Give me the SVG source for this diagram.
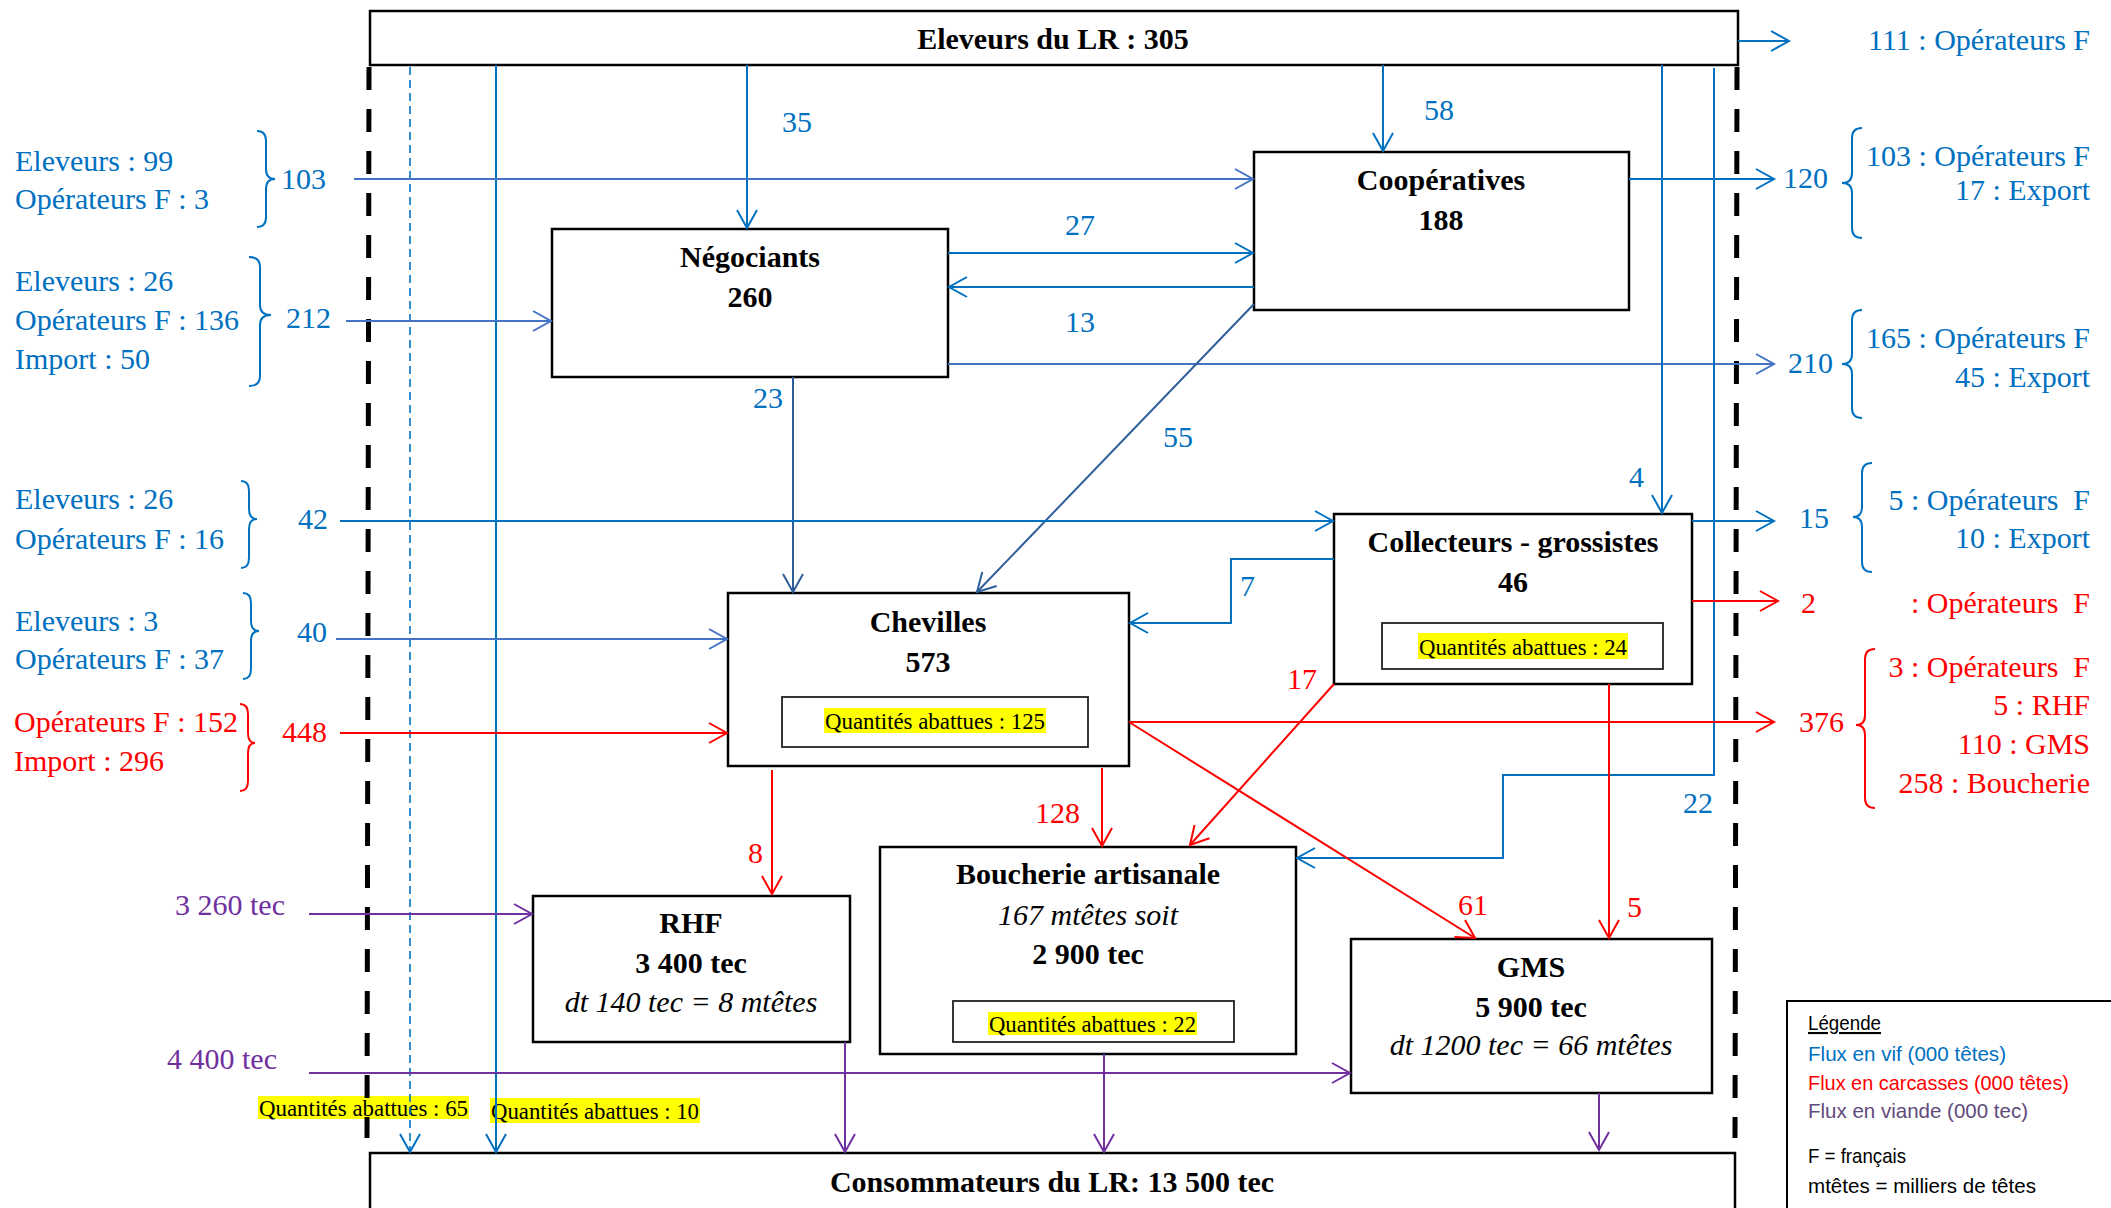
<svg xmlns="http://www.w3.org/2000/svg" width="2111" height="1208" viewBox="0 0 2111 1208">
<style>
.bx{fill:#fff;stroke:#000;stroke-width:2.5}
.ib{fill:#fff;stroke:#222;stroke-width:1.8}
.t{font-family:"Liberation Serif","Times New Roman",serif;font-size:30px}
.b{font-weight:bold;fill:#000;text-anchor:middle}
.i{font-style:italic;fill:#000;text-anchor:middle}
.bl{fill:#0070C0}
.rd{fill:#FF0000}
.pu{fill:#7030A0}
.end{text-anchor:end}
.hl{fill:#FFFF00}
.q{font-family:"Liberation Serif","Times New Roman",serif;font-size:24px;fill:#000}
.lg{font-family:"Liberation Sans",Arial,sans-serif;font-size:21px}
.lb{fill:none;stroke:#0070C0;stroke-width:2}
.lb2{fill:none;stroke:#4472C4;stroke-width:2}
.lb3{fill:none;stroke:#2E5E99;stroke-width:2}
.lr{fill:none;stroke:#FF0000;stroke-width:2}
.lp{fill:none;stroke:#7030A0;stroke-width:2}
.br{fill:none;stroke-width:2}
.dash{fill:none;stroke:#000;stroke-width:5;stroke-dasharray:23 19}
</style>
<defs>
<marker id="mb" markerUnits="userSpaceOnUse" markerWidth="24" markerHeight="24" refX="19" refY="11" orient="auto" overflow="visible"><path d="M1,1 L19,11 L1,21" fill="none" stroke="#0070C0" stroke-width="2"/></marker>
<marker id="mb2" markerUnits="userSpaceOnUse" markerWidth="24" markerHeight="24" refX="19" refY="11" orient="auto" overflow="visible"><path d="M1,1 L19,11 L1,21" fill="none" stroke="#4472C4" stroke-width="2"/></marker>
<marker id="mb3" markerUnits="userSpaceOnUse" markerWidth="24" markerHeight="24" refX="19" refY="11" orient="auto" overflow="visible"><path d="M1,1 L19,11 L1,21" fill="none" stroke="#2E5E99" stroke-width="2"/></marker>
<marker id="mr" markerUnits="userSpaceOnUse" markerWidth="24" markerHeight="24" refX="19" refY="11" orient="auto" overflow="visible"><path d="M1,1 L19,11 L1,21" fill="none" stroke="#FF0000" stroke-width="2"/></marker>
<marker id="mp" markerUnits="userSpaceOnUse" markerWidth="24" markerHeight="24" refX="19" refY="11" orient="auto" overflow="visible"><path d="M1,1 L19,11 L1,21" fill="none" stroke="#7030A0" stroke-width="2"/></marker>
</defs>
<rect width="2111" height="1208" fill="#fff"/>

<!-- nodes -->
<g id="eleveurs"><rect class="bx" x="370" y="11" width="1368" height="54"/><text class="t b" x="1053" y="49">Eleveurs du LR : 305</text></g>
<g id="consommateurs"><rect class="bx" x="370" y="1153" width="1365" height="60"/><text class="t b" x="1052" y="1192">Consommateurs du LR: 13 500 tec</text></g>
<g id="cooperatives"><rect class="bx" x="1254" y="152" width="375" height="158"/><text class="t b" x="1441" y="190">Coopératives</text><text class="t b" x="1441" y="230">188</text></g>
<g id="negociants"><rect class="bx" x="552" y="229" width="396" height="148"/><text class="t b" x="750" y="267">Négociants</text><text class="t b" x="750" y="307">260</text></g>
<g id="collecteurs"><rect class="bx" x="1334" y="514" width="358" height="170"/><text class="t b" x="1513" y="552">Collecteurs - grossistes</text><text class="t b" x="1513" y="592">46</text>
<rect class="ib" x="1382" y="623" width="281" height="46"/><rect class="hl" x="1418" y="633" width="210" height="26"/><text class="q" x="1419" y="655" textLength="208" lengthAdjust="spacingAndGlyphs">Quantités abattues : 24</text></g>
<g id="chevilles"><rect class="bx" x="728" y="593" width="401" height="173"/><text class="t b" x="928" y="632">Chevilles</text><text class="t b" x="928" y="672">573</text>
<rect class="ib" x="782" y="697" width="306" height="50"/><rect class="hl" x="824" y="708" width="222" height="25"/><text class="q" x="825" y="729" textLength="220" lengthAdjust="spacingAndGlyphs">Quantités abattues : 125</text></g>
<g id="rhf"><rect class="bx" x="533" y="896" width="317" height="146"/><text class="t b" x="691" y="933">RHF</text><text class="t b" x="691" y="973">3 400 tec</text><text class="t i" x="691" y="1012">dt 140 tec = 8 mtêtes</text></g>
<g id="boucherie"><rect class="bx" x="880" y="847" width="416" height="207"/><text class="t b" x="1088" y="884">Boucherie artisanale</text><text class="t i" x="1088" y="925">167 mtêtes soit</text><text class="t b" x="1088" y="964">2 900 tec</text>
<rect class="ib" x="953" y="1001" width="281" height="41"/><rect class="hl" x="988" y="1012" width="209" height="23"/><text class="q" x="989" y="1032" textLength="207" lengthAdjust="spacingAndGlyphs">Quantités abattues : 22</text></g>
<g id="gms"><rect class="bx" x="1351" y="939" width="361" height="154"/><text class="t b" x="1531" y="977">GMS</text><text class="t b" x="1531" y="1017">5 900 tec</text><text class="t i" x="1531" y="1055">dt 1200 tec = 66 mtêtes</text></g>
<g id="legende"><rect x="1787" y="1001" width="340" height="220" fill="#fff" stroke="#000" stroke-width="2"/>
<text class="lg" x="1808" y="1030" fill="#000" text-decoration="underline" textLength="73" lengthAdjust="spacingAndGlyphs">Légende</text>
<text class="lg" x="1808" y="1061" fill="#0070C0" textLength="198" lengthAdjust="spacingAndGlyphs">Flux en vif (000 têtes)</text>
<text class="lg" x="1808" y="1090" fill="#FF0000" textLength="261" lengthAdjust="spacingAndGlyphs">Flux en carcasses (000 têtes)</text>
<text class="lg" x="1808" y="1118" fill="#604A7B" textLength="220" lengthAdjust="spacingAndGlyphs">Flux en viande (000 tec)</text>
<text class="lg" x="1808" y="1163" fill="#000" textLength="98" lengthAdjust="spacingAndGlyphs">F = français</text>
<text class="lg" x="1808" y="1193" fill="#000" textLength="228" lengthAdjust="spacingAndGlyphs">mtêtes = milliers de têtes</text></g>

<!-- slaughter highlights -->
<g id="abattues">
<rect class="hl" x="258" y="1096" width="211" height="23"/><text class="q" x="259" y="1116" textLength="209" lengthAdjust="spacingAndGlyphs">Quantités abattues : 65</text>
<rect class="hl" x="490" y="1098" width="210" height="25"/><text class="q" x="491" y="1119" textLength="208" lengthAdjust="spacingAndGlyphs">Quantités abattues : 10</text>
</g>

<!-- boundaries -->
<g id="frontieres">
<path class="dash" d="M369,67 L367,1138"/>
<path class="dash" d="M1737,67 L1735,1138"/>
</g>

<!-- connectors -->
<g id="connecteurs">
<path d="M410,67 L410,1152" fill="none" stroke="#0070C0" stroke-width="1.6" stroke-dasharray="8 5" marker-end="url(#mb)"/>
<path class="lb" d="M496,65 L496,1152" marker-end="url(#mb)"/>
<path class="lb" d="M747,65 L747,228" marker-end="url(#mb)"/>
<path class="lb" d="M1383,65 L1383,151" marker-end="url(#mb)"/>
<path class="lb2" d="M354,179 L1253,179" marker-end="url(#mb2)"/>
<path class="lb2" d="M346,321 L551,321" marker-end="url(#mb2)"/>
<path class="lb" d="M948,253 L1253,253" marker-end="url(#mb)"/>
<path class="lb" d="M1254,287 L949,287" marker-end="url(#mb)"/>
<path class="lb2" d="M948,364 L1774,364" marker-end="url(#mb2)"/>
<path class="lb" d="M1629,179 L1774,179" marker-end="url(#mb)"/>
<path class="lb" d="M1738,41 L1789,41" marker-end="url(#mb)"/>
<path class="lb3" d="M793,377 L793,592" marker-end="url(#mb3)"/>
<path class="lb3" d="M1254,304 L977,592" marker-end="url(#mb3)"/>
<path class="lb" d="M1662,65 L1662,513" marker-end="url(#mb)"/>
<path class="lb" d="M1714,68 L1714,775 L1503,775 L1503,858 L1297,858" marker-end="url(#mb)"/>
<path class="lb" d="M340,521 L1333,521" marker-end="url(#mb)"/>
<path class="lb" d="M1692,521 L1774,521" marker-end="url(#mb)"/>
<path class="lb" d="M1334,559 L1231,559 L1231,623 L1130,623" marker-end="url(#mb)"/>
<path class="lb2" d="M336,639 L727,639" marker-end="url(#mb2)"/>
<path class="lr" d="M340,733 L727,733" marker-end="url(#mr)"/>
<path class="lr" d="M1692,601 L1778,601" marker-end="url(#mr)"/>
<path class="lr" d="M1129,722 L1774,722" marker-end="url(#mr)"/>
<path class="lr" d="M1129,722 L1475,938" marker-end="url(#mr)"/>
<path class="lr" d="M1334,684 L1190,845" marker-end="url(#mr)"/>
<path class="lr" d="M1609,684 L1609,938" marker-end="url(#mr)"/>
<path class="lr" d="M772,770 L772,894" marker-end="url(#mr)"/>
<path class="lr" d="M1102,768 L1102,846" marker-end="url(#mr)"/>
<path class="lp" d="M309,914 L532,914" marker-end="url(#mp)"/>
<path class="lp" d="M309,1073 L1350,1073" marker-end="url(#mp)"/>
<path class="lp" d="M845,1042 L845,1152" marker-end="url(#mp)"/>
<path class="lp" d="M1104,1054 L1104,1152" marker-end="url(#mp)"/>
<path class="lp" d="M1599,1093 L1599,1150" marker-end="url(#mp)"/>
</g>

<!-- braces -->
<g id="accolades">
<path class="br" stroke="#0070C0" d="M257,131 Q266,131 266,141 L266,169 Q266,179 275,179 Q266,179 266,189 L266,217 Q266,227 257,227"/>
<path class="br" stroke="#0070C0" d="M249,257 Q260,257 260,267 L260,305 Q260,315 271,315 Q260,315 260,325 L260,376 Q260,386 249,386"/>
<path class="br" stroke="#0070C0" d="M241,481 Q249,481 249,491 L249,509 Q249,519 257,519 Q249,519 249,529 L249,558 Q249,568 241,568"/>
<path class="br" stroke="#0070C0" d="M243,593 Q251,593 251,603 L251,621 Q251,631 259,631 Q251,631 251,641 L251,669 Q251,679 243,679"/>
<path class="br" stroke="#FF0000" d="M240,704 Q248,704 248,714 L248,733 Q248,743 255,743 Q248,743 248,753 L248,781 Q248,791 240,791"/>
<path class="br" stroke="#0070C0" d="M1862,128 Q1852,128 1852,138 L1852,173 Q1852,183 1842,183 Q1852,183 1852,193 L1852,228 Q1852,238 1862,238"/>
<path class="br" stroke="#0070C0" d="M1862,310 Q1852,310 1852,320 L1852,354 Q1852,364 1842,364 Q1852,364 1852,374 L1852,408 Q1852,418 1862,418"/>
<path class="br" stroke="#0070C0" d="M1872,463 Q1862,463 1862,473 L1862,507 Q1862,517 1853,517 Q1862,517 1862,527 L1862,562 Q1862,572 1872,572"/>
<path class="br" stroke="#FF0000" d="M1875,649 Q1865,649 1865,659 L1865,715 Q1865,725 1856,725 Q1865,725 1865,735 L1865,798 Q1865,808 1875,808"/>
</g>

<!-- labels -->
<g id="etiquettes" class="t">
<text class="bl" x="15" y="171">Eleveurs : 99</text>
<text class="bl" x="15" y="209">Opérateurs F : 3</text>
<text class="bl" x="281" y="189">103</text>
<text class="bl" x="15" y="291">Eleveurs : 26</text>
<text class="bl" x="15" y="330">Opérateurs F : 136</text>
<text class="bl" x="15" y="369">Import : 50</text>
<text class="bl" x="286" y="328">212</text>
<text class="bl" x="15" y="509">Eleveurs : 26</text>
<text class="bl" x="15" y="549">Opérateurs F : 16</text>
<text class="bl" x="298" y="529">42</text>
<text class="bl" x="15" y="631">Eleveurs : 3</text>
<text class="bl" x="15" y="669">Opérateurs F : 37</text>
<text class="bl" x="297" y="642">40</text>
<text class="rd" x="14" y="732">Opérateurs F : 152</text>
<text class="rd" x="14" y="771">Import : 296</text>
<text class="rd" x="282" y="742">448</text>
<text class="pu" x="175" y="915">3 260 tec</text>
<text class="pu" x="167" y="1069">4 400 tec</text>
<text class="bl" x="782" y="132">35</text>
<text class="bl" x="1424" y="120">58</text>
<text class="bl" x="1065" y="235">27</text>
<text class="bl" x="1065" y="332">13</text>
<text class="bl" x="753" y="408">23</text>
<text class="bl" x="1163" y="447">55</text>
<text class="bl" x="1629" y="487">4</text>
<text class="bl" x="1240" y="596">7</text>
<text class="bl" x="1683" y="813">22</text>
<text class="rd" x="1287" y="689">17</text>
<text class="rd" x="1035" y="823">128</text>
<text class="rd" x="748" y="863">8</text>
<text class="rd" x="1458" y="915">61</text>
<text class="rd" x="1627" y="917">5</text>
<text class="bl" x="1783" y="188">120</text>
<text class="bl" x="1788" y="373">210</text>
<text class="bl" x="1799" y="528">15</text>
<text class="rd" x="1801" y="613">2</text>
<text class="rd" x="1799" y="732">376</text>
<text class="bl end" x="2090" y="50">111 : Opérateurs F</text>
<text class="bl end" x="2090" y="166">103 : Opérateurs F</text>
<text class="bl end" x="2090" y="200">17 : Export</text>
<text class="bl end" x="2090" y="348">165 : Opérateurs F</text>
<text class="bl end" x="2090" y="387">45 : Export</text>
<text class="bl end" x="2090" y="510" xml:space="preserve">5 : Opérateurs  F</text>
<text class="bl end" x="2090" y="548">10 : Export</text>
<text class="rd end" x="2090" y="613" xml:space="preserve">: Opérateurs  F</text>
<text class="rd end" x="2090" y="677" xml:space="preserve">3 : Opérateurs  F</text>
<text class="rd end" x="2090" y="715">5 : RHF</text>
<text class="rd end" x="2090" y="754">110 : GMS</text>
<text class="rd end" x="2090" y="793">258 : Boucherie</text>
</g>
</svg>
